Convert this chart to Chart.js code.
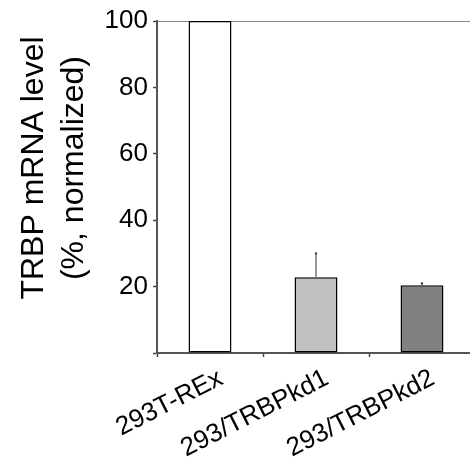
<!DOCTYPE html>
<html lang="en">
<head>
  <meta charset="UTF-8" />
  <title>TRBP mRNA level</title>
  <script src="https://cdn.jsdelivr.net/npm/chart.js"></script>
  <style>
    html, body {
      margin: 0;
      padding: 0;
      background: #fff;
      overflow: hidden;
    }
    .chart-container {
      position: relative;
      width: 475px;
      height: 462px;
    }
  </style>
</head>
<body>
  <div class="chart-container">
    <canvas id="mrnaChart"></canvas>
  </div>

  <script>
    const categories = ['293T-REx', '293/TRBPkd1', '293/TRBPkd2'];
    const levels = [100, 22.8, 20.4];
    const errors = [0, 7.2, 0.6];
    const barColors = ['#ffffff', '#c0c0c0', '#808080'];
    const yTitle = ['TRBP mRNA level', '(%, normalized)'];

    const FONT = "'Liberation Sans', Arial, sans-serif";

    // error bars, upward only
    const errorBars = {
      id: 'errorBars',
      afterDatasetsDraw(chart) {
        const ctx = chart.ctx;
        const y = chart.scales.y;
        const meta = chart.getDatasetMeta(0);
        ctx.save();
        meta.data.forEach((bar, i) => {
          if (!errors[i]) return;
          const top = y.getPixelForValue(levels[i] + errors[i]);
          ctx.strokeStyle = '#777';
          ctx.lineWidth = 1.5;
          ctx.beginPath();
          ctx.moveTo(bar.x, bar.y);
          ctx.lineTo(bar.x, top);
          ctx.stroke();
          ctx.fillStyle = '#333';
          ctx.fillRect(bar.x - 1, top - 1, 2, 2);
        });
        ctx.restore();
      }
    };

    // two-line axis title, centred a bit above the plot middle
    const axisTitle = {
      id: 'axisTitle',
      afterDraw(chart) {
        const ctx = chart.ctx;
        const area = chart.chartArea;
        ctx.save();
        ctx.translate(0, area.top + 147);
        ctx.rotate(-Math.PI / 2);
        ctx.font = '32px ' + FONT;
        ctx.fillStyle = '#000';
        ctx.textAlign = 'center';
        ctx.textBaseline = 'alphabetic';
        ctx.fillText(yTitle[0], 0, 43);
        ctx.fillText(yTitle[1], 0, 83);
        ctx.restore();
      }
    };

    new Chart(document.getElementById('mrnaChart'), {
      type: 'bar',
      data: {
        labels: categories,
        datasets: [{
          data: levels,
          backgroundColor: barColors,
          borderColor: '#000',
          borderWidth: 1.5,
          borderSkipped: false,
          barPercentage: 0.405,
          categoryPercentage: 1
        }]
      },
      options: {
        responsive: true,
        maintainAspectRatio: false,
        animation: false,
        layout: { padding: { top: 21, right: 0, left: 0, bottom: 0 } },
        plugins: {
          legend: { display: false },
          tooltip: { enabled: false }
        },
        scales: {
          x: {
            grid: {
              offset: true,
              drawOnChartArea: false,
              tickLength: 4,
              tickColor: '#444',
              tickWidth: 1.5
            },
            border: { color: '#555', width: 2 },
            ticks: {
              color: '#000',
              font: { family: FONT, size: 26 },
              minRotation: 27,
              maxRotation: 27,
              padding: 6,
              labelOffset: 11
            },
            afterFit(scale) { scale.height = 109; }
          },
          y: {
            min: 0,
            max: 100,
            grid: {
              color: ctx => ctx.tick && ctx.tick.value === 100 ? '#888' : 'rgba(0,0,0,0)',
              tickColor: '#444',
              tickLength: 4,
              tickWidth: 1.5
            },
            border: { color: '#555', width: 2 },
            ticks: {
              stepSize: 20,
              color: '#000',
              font: { family: FONT, size: 26 },
              padding: 5,
              callback: v => v === 0 ? '' : v
            },
            afterFit(scale) { scale.width = 157; }
          }
        }
      },
      plugins: [errorBars, axisTitle]
    });
  </script>
</body>
</html>
